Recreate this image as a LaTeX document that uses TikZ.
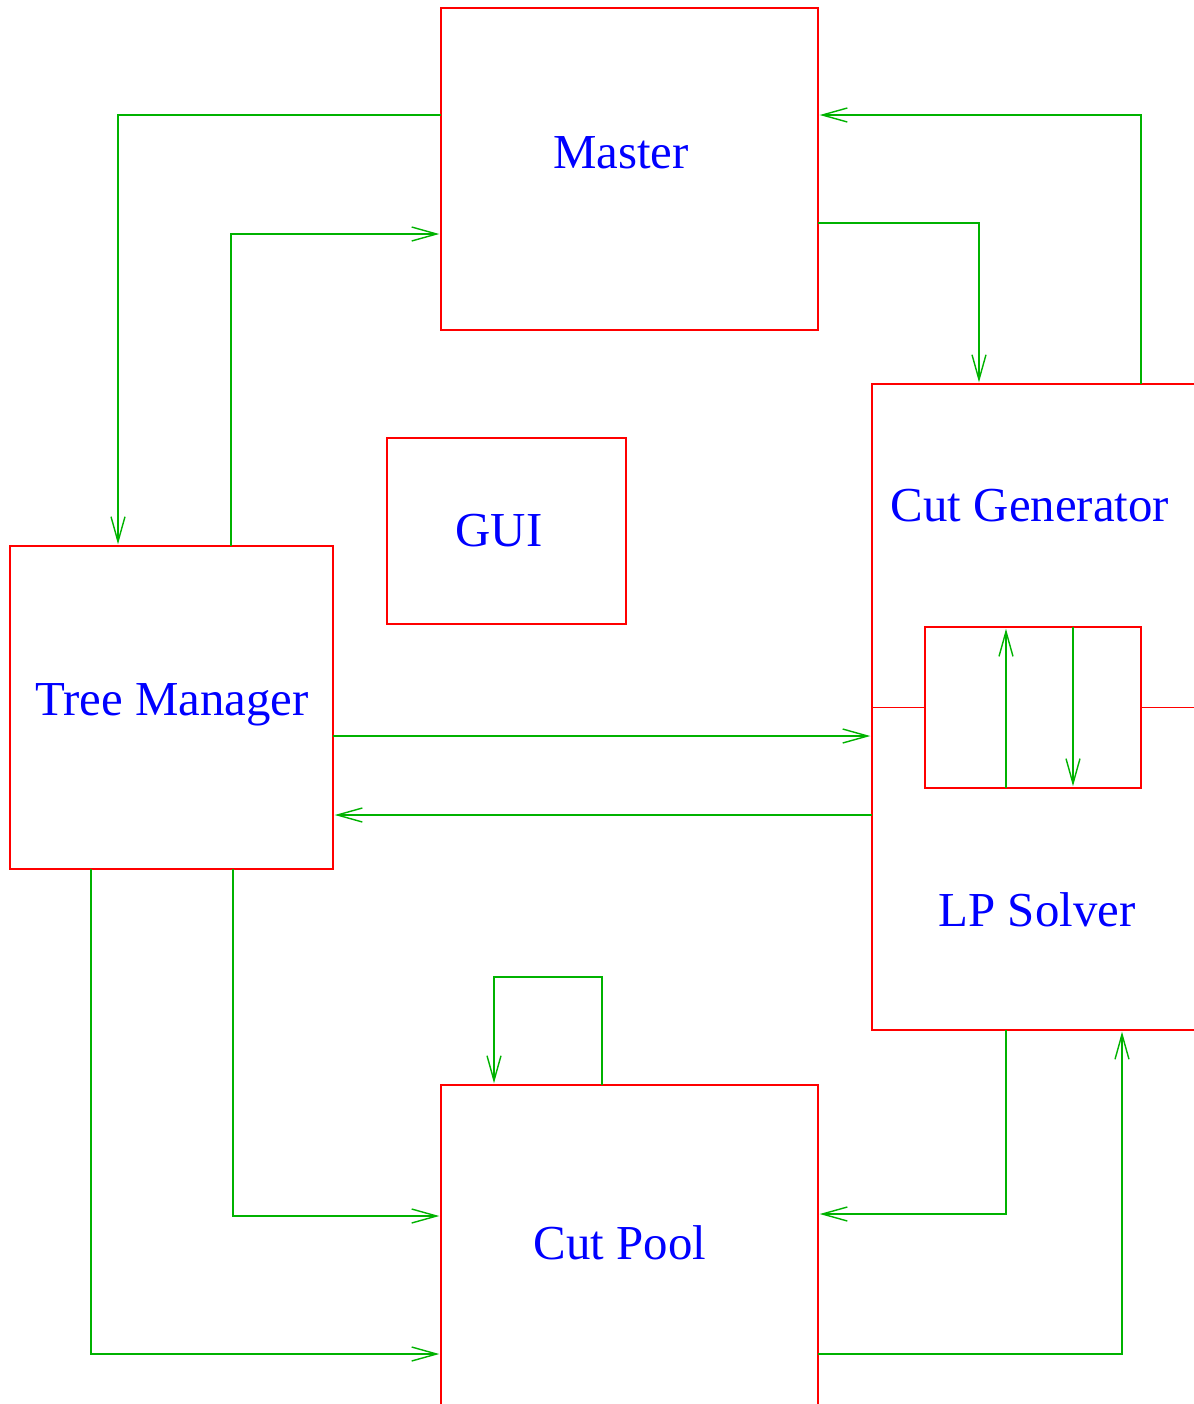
\documentclass[tikz,border=0pt]{standalone}
\usepackage{fontspec}
\setmainfont{Liberation Serif}
\usepackage{tikz}
\usetikzlibrary{arrows.meta,positioning,calc}
\definecolor{boxred}{RGB}{255,0,0}
\definecolor{flowgreen}{RGB}{0,178,0}
\definecolor{textblue}{RGB}{0,0,255}
\tikzset{
  procbox/.style={draw=boxred,line width=0.8pt,inner sep=0pt,outer sep=0pt},
  proclabel/.style={text=textblue,anchor=base,inner sep=0pt,
    font=\fontsize{27.8}{32}\selectfont},
  flow/.style={-{Straight Barb[length=5mm,width=2.8mm]},draw=flowgreen,
    line width=0.8pt,shorten >=1pt},
  redlink/.style={draw=boxred,line width=0.8pt}
}

\begin{document}
\begin{tikzpicture}[x=0.02cm,y=-0.02cm]
  \clip (0,0) rectangle (1194,1404);
  \node[procbox,minimum width=7.54cm,minimum height=6.44cm] (master) at (629.5,169) {};
  \node[procbox,minimum width=4.78cm,minimum height=3.72cm] (gui) at (506.5,531) {};
  \node[procbox,minimum width=6.46cm,minimum height=6.46cm] (tm) at (171.5,707.5) {};
  \node[procbox,minimum width=6.96cm,minimum height=12.92cm] (cg) at (1046,707) {};
  \node[procbox,minimum width=4.32cm,minimum height=3.22cm] (lp) at (1033,707.5) {};
  \node[procbox,minimum width=7.54cm,minimum height=6.9cm] (pool) at (629.5,1257.5) {};

  \node[proclabel] (mastertext) at (621,168) {Master};
  \node[proclabel] (guitext) at (499,546) {GUI};
  \node[proclabel] (tmtext) at (172,715) {Tree Manager};
  \node[proclabel] (cgtext) at (1030,521) {Cut Generator};
  \node[proclabel] (lptext) at (1037,926) {LP Solver};
  \node[proclabel] (pooltext) at (620,1259) {Cut Pool};

  \draw[redlink] (cg.west |- lp.west) -- (lp.west);
  \draw[redlink] (lp.east) -- (cg.east |- lp.east);

  \draw[flow] (master.west |- 0,115) -| (tm.north -| 118,0);
  \draw[flow] (tm.north -| 231,0) |- (master.west |- 0,234);
  \draw[flow] (master.east |- 0,223) -| (cg.north -| 979,0);
  \draw[flow] (cg.north -| 1141,0) |- (master.east |- 0,115);
  \draw[flow] (tm.east |- 0,736) -- (cg.west |- 0,736);
  \draw[flow] (cg.west |- 0,815) -- (tm.east |- 0,815);
  \draw[flow] (tm.south -| 233,0) |- (pool.west |- 0,1216);
  \draw[flow] (tm.south -| 91,0) |- (pool.west |- 0,1354);
  \draw[flow] (cg.south -| 1006,0) |- (pool.east |- 0,1214);
  \draw[flow] (pool.east |- 0,1354) -| (cg.south -| 1122,0);
  \draw[flow] (pool.north -| 602,0) -- ++(0,-108) -| (pool.north -| 494,0);
  \draw[flow] (lp.south -| 1006,0) -- (lp.north -| 1006,0);
  \draw[flow] (lp.north -| 1073,0) -- (lp.south -| 1073,0);
\end{tikzpicture}
\end{document}
